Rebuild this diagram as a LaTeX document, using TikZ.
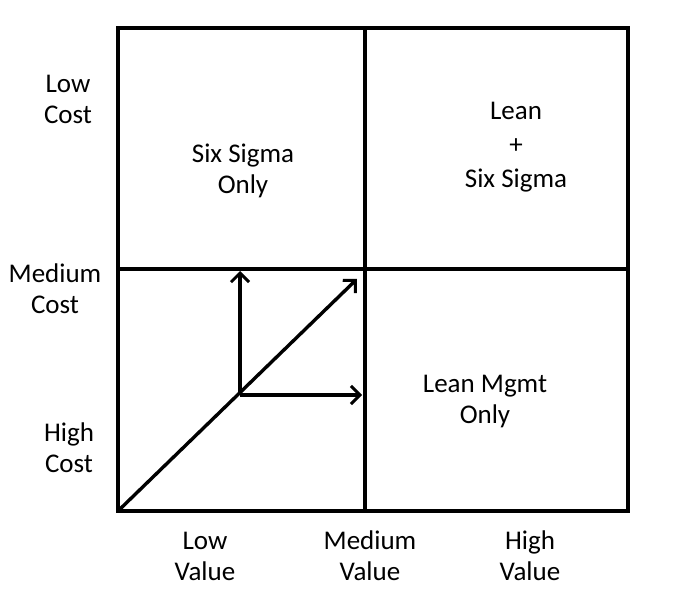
\documentclass[tikz,border=0pt]{standalone}
\usepackage{fontspec}
\setmainfont{Carlito}
\usetikzlibrary{arrows.meta}

\tikzset{
  grid line/.style={line width=3.8pt},
  push arrow/.style={line width=3.4pt, -{Straight Barb[length=9pt,width=18pt,line width=3pt]}},
  label text/.style={align=center, font=\fontsize{27}{31}\selectfont, inner sep=0pt}
}

\begin{document}
\begin{tikzpicture}[x=1pt,y=-1pt]
  \useasboundingbox (0,0) rectangle (678,599);

  % corners of the matrix
  \coordinate (nw) at (118,28);
  \coordinate (se) at (628,511);
  \coordinate (sw) at (118,511);
  \coordinate (midtop) at (365,28);
  \coordinate (midbot) at (365,511);
  \coordinate (midleft) at (118,269);
  \coordinate (midright) at (628,269);

  \draw[grid line] (nw) rectangle (se);
  \draw[grid line] (midtop) -- (midbot);
  \draw[grid line] (midleft) -- (midright);

  % arrows
  \coordinate (pivot) at (240,395);
  \coordinate (diagend) at (357,279);
  \coordinate (upend) at (240,271);
  \coordinate (rightend) at (362,395);
  \draw[push arrow] (sw) -- (diagend);
  \draw[push arrow] (pivot) -- (upend);
  \draw[push arrow] (pivot) -- (rightend);

  % cost axis
  \node[label text] (lowcost) at (68,99) {Low\\Cost};
  \node[label text] (medcost) at (55,289) {Medium\\Cost};
  \node[label text] (highcost) at (69,448) {High\\Cost};

  % value axis
  \node[label text] (lowval) at (205,556) {Low\\Value};
  \node[label text] (medval) at (370,556) {Medium\\Value};
  \node[label text] (highval) at (530,556) {High\\Value};

  % quadrants
  \node[label text] (sixsigma) at (243,171) {Six Sigma\\Only};
  \node[label text, font=\fontsize{27}{34}\selectfont] (leansix) at (516,147) {Lean\\+\\Six Sigma};
  \node[label text] (leanmgmt) at (485,402) {Lean Mgmt\\Only};
\end{tikzpicture}
\end{document}
